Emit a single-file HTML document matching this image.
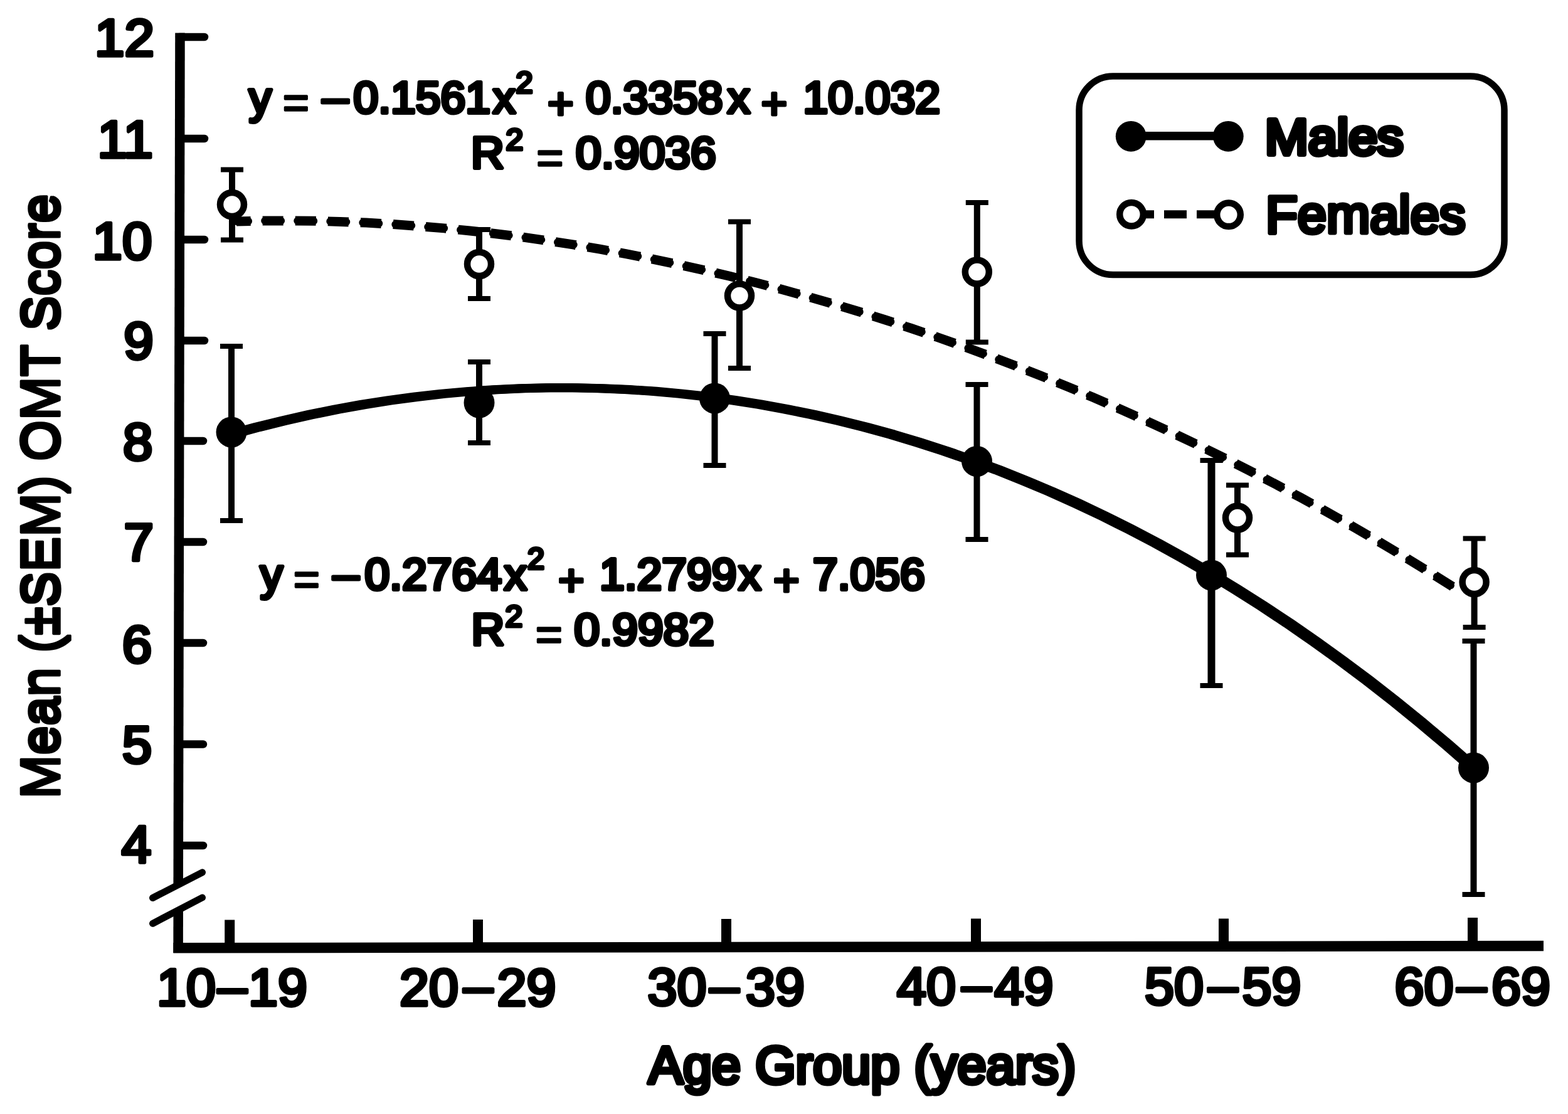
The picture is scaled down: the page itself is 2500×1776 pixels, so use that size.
<!DOCTYPE html>
<html lang="en"><head><meta charset="utf-8"><title>Mean (±SEM) OMT Score by Age Group</title>
<style>
html,body{margin:0;padding:0;background:#fff;}
body{width:2500px;height:1776px;overflow:hidden;}
svg{display:block;}
text{font-family:"Liberation Sans",sans-serif;fill:#000;stroke:#000;stroke-linejoin:round;white-space:pre;}
</style></head><body>
<svg width="2500" height="1776" viewBox="0 0 2500 1776">
<defs><filter id="hdil" x="-10%" y="-2%" width="120%" height="104%"><feMorphology operator="dilate" radius="2 0"/></filter></defs>
<rect width="2500" height="1776" fill="#fff"/>
<g stroke="#000" fill="none" stroke-linecap="butt">
<path d="M287,52.5 L284.2,1411" stroke-width="15.5"/>
<path d="M284.2,1450 L284.1,1519" stroke-width="15.5"/>
<path d="M276.4,1511.3 L2461,1508" stroke-width="16.5"/>
<path d="M243.5,1431.5 L322.5,1390.8" stroke-width="11" stroke-linecap="round"/>
<path d="M243.5,1472.3 L322.5,1431" stroke-width="11" stroke-linecap="round"/>
<path d="M286,59 L326,59" stroke-width="12.5" stroke-linecap="round"/>
<path d="M286,221 L326,221" stroke-width="12.5" stroke-linecap="round"/>
<path d="M286,382 L326,382" stroke-width="12.5" stroke-linecap="round"/>
<path d="M286,543 L326,543" stroke-width="12.5" stroke-linecap="round"/>
<path d="M286,703 L324,703" stroke-width="12.5" stroke-linecap="round"/>
<path d="M286,864 L324,864" stroke-width="12.5" stroke-linecap="round"/>
<path d="M286,1025 L324,1025" stroke-width="12.5" stroke-linecap="round"/>
<path d="M286,1186.5 L324,1186.5" stroke-width="12.5" stroke-linecap="round"/>
<path d="M286,1348 L324,1348" stroke-width="12.5" stroke-linecap="round"/>
<path d="M366.2,1466.5 L366.2,1510" stroke-width="16"/>
<path d="M762,1466 L762,1510" stroke-width="16"/>
<path d="M1158,1465 L1158,1510" stroke-width="16"/>
<path d="M1556,1464.5 L1556,1510" stroke-width="16"/>
<path d="M1951,1464.5 L1951,1510" stroke-width="16"/>
<path d="M2348,1463 L2348,1510" stroke-width="16"/>
</g>
<g fill="none" stroke="#000" stroke-width="14" stroke-linejoin="round"><path transform="translate(-4,0)" d="M368.0,692.6 L410.2,681.1 L452.3,670.7 L494.5,661.2 L536.6,652.6 L578.8,645.0 L621.0,638.4 L663.1,632.7 L705.3,627.9 L747.4,624.1 L789.6,621.2 L831.8,619.3 L873.9,618.3 L916.1,618.3 L958.2,619.2 L1000.4,621.0 L1042.6,623.8 L1084.7,627.6 L1126.9,632.3 L1169.0,638.0 L1211.2,644.7 L1253.4,652.3 L1295.5,660.9 L1337.7,670.5 L1379.8,681.0 L1422.0,692.6 L1464.1,705.2 L1506.3,718.8 L1548.5,733.5 L1590.6,749.1 L1632.8,765.9 L1674.9,783.6 L1717.1,802.5 L1759.3,822.5 L1801.4,843.5 L1843.6,865.6 L1885.7,888.9 L1927.9,913.3 L1970.1,938.9 L2012.2,965.7 L2054.4,993.6 L2096.5,1022.8 L2138.7,1053.1 L2180.9,1084.7 L2223.0,1117.6 L2265.2,1151.7 L2307.3,1187.2 L2349.5,1224.0"/><path transform="translate(4,0)" d="M368.0,692.6 L410.2,681.1 L452.3,670.7 L494.5,661.2 L536.6,652.6 L578.8,645.0 L621.0,638.4 L663.1,632.7 L705.3,627.9 L747.4,624.1 L789.6,621.2 L831.8,619.3 L873.9,618.3 L916.1,618.3 L958.2,619.2 L1000.4,621.0 L1042.6,623.8 L1084.7,627.6 L1126.9,632.3 L1169.0,638.0 L1211.2,644.7 L1253.4,652.3 L1295.5,660.9 L1337.7,670.5 L1379.8,681.0 L1422.0,692.6 L1464.1,705.2 L1506.3,718.8 L1548.5,733.5 L1590.6,749.1 L1632.8,765.9 L1674.9,783.6 L1717.1,802.5 L1759.3,822.5 L1801.4,843.5 L1843.6,865.6 L1885.7,888.9 L1927.9,913.3 L1970.1,938.9 L2012.2,965.7 L2054.4,993.6 L2096.5,1022.8 L2138.7,1053.1 L2180.9,1084.7 L2223.0,1117.6 L2265.2,1151.7 L2307.3,1187.2 L2349.5,1224.0"/></g>
<g fill="none" stroke="#000" stroke-linejoin="round"><path d="M377.0,352.9 L418.4,352.1 L459.8,351.9 L501.1,352.3 L542.5,353.4 L583.9,355.1 L625.3,357.4 L666.7,360.4 L708.1,363.9 L749.4,368.0 L790.8,372.7 L832.2,377.9 L873.6,383.8 L915.0,390.2 L956.4,397.2 L997.7,404.7 L1039.1,412.8 L1080.5,421.4 L1121.9,430.6 L1163.3,440.3 L1204.7,450.5 L1246.0,461.3 L1287.4,472.7 L1328.8,484.6 L1370.2,497.0 L1411.6,510.0 L1453.0,523.5 L1494.3,537.5 L1535.7,552.1 L1577.1,567.3 L1618.5,583.0 L1659.9,599.2 L1701.3,616.1 L1742.6,633.4 L1784.0,651.4 L1825.4,669.9 L1866.8,689.0 L1908.2,708.6 L1949.6,728.9 L1990.9,749.7 L2032.3,771.2 L2073.7,793.2 L2115.1,815.9 L2156.5,839.2 L2197.9,863.2 L2239.2,887.8 L2280.6,913.0 L2322.0,938.9" stroke-width="15" stroke-dasharray="33 19.07" stroke-dashoffset="10.4"/><path d="M377.0,352.9 L418.4,352.1 L459.8,351.9 L501.1,352.3 L542.5,353.4 L583.9,355.1 L625.3,357.4 L666.7,360.4 L708.1,363.9 L749.4,368.0 L790.8,372.7 L832.2,377.9 L873.6,383.8 L915.0,390.2 L956.4,397.2 L997.7,404.7 L1039.1,412.8 L1080.5,421.4 L1121.9,430.6 L1163.3,440.3 L1204.7,450.5 L1246.0,461.3 L1287.4,472.7 L1328.8,484.6 L1370.2,497.0 L1411.6,510.0 L1453.0,523.5 L1494.3,537.5 L1535.7,552.1 L1577.1,567.3 L1618.5,583.0 L1659.9,599.2 L1701.3,616.1 L1742.6,633.4 L1784.0,651.4 L1825.4,669.9 L1866.8,689.0 L1908.2,708.6 L1949.6,728.9 L1990.9,749.7 L2032.3,771.2 L2073.7,793.2 L2115.1,815.9 L2156.5,839.2 L2197.9,863.2 L2239.2,887.8 L2280.6,913.0 L2322.0,938.9" stroke-width="12" stroke-linecap="round" stroke-dasharray="26 26.07" stroke-dashoffset="6.9"/></g>
<g stroke="#000" fill="none">
<path d="M369,552 L369,830" stroke-width="10"/>
<path d="M351,552 L387,552 M351,830 L387,830" stroke-width="8"/>
<path d="M764,577 L764,706" stroke-width="10"/>
<path d="M746,577 L782,577 M746,706 L782,706" stroke-width="8"/>
<path d="M1139.5,532 L1139.5,742" stroke-width="10"/>
<path d="M1121.5,532 L1157.5,532 M1121.5,742 L1157.5,742" stroke-width="8"/>
<path d="M1557.5,613 L1557.5,860" stroke-width="10"/>
<path d="M1539.5,613 L1575.5,613 M1539.5,860 L1575.5,860" stroke-width="8"/>
<path d="M1931.5,734 L1931.5,1093" stroke-width="12"/>
<path d="M1913.5,734 L1949.5,734 M1913.5,1093 L1949.5,1093" stroke-width="8"/>
<path d="M2349.5,1022 L2349.5,1426" stroke-width="10"/>
<path d="M2331.5,1022 L2367.5,1022 M2331.5,1426 L2367.5,1426" stroke-width="8"/>
<path d="M370,270.5 L370,382.5" stroke-width="10"/>
<path d="M352,270.5 L388,270.5 M352,382.5 L388,382.5" stroke-width="8"/>
<path d="M764,366 L764,476" stroke-width="10"/>
<path d="M746,366 L782,366 M746,476 L782,476" stroke-width="8"/>
<path d="M1179,353.5 L1179,587" stroke-width="10"/>
<path d="M1161,353.5 L1197,353.5 M1161,587 L1197,587" stroke-width="8"/>
<path d="M1557.8,323 L1557.8,545.5" stroke-width="10"/>
<path d="M1539.8,323 L1575.8,323 M1539.8,545.5 L1575.8,545.5" stroke-width="8"/>
<path d="M1973,773.5 L1973,884.5" stroke-width="10"/>
<path d="M1955,773.5 L1991,773.5 M1955,884.5 L1991,884.5" stroke-width="8"/>
<path d="M2350.6,858.5 L2350.6,1000" stroke-width="10"/>
<path d="M2332.6,858.5 L2368.6,858.5 M2332.6,1000 L2368.6,1000" stroke-width="8"/>
</g>
<circle cx="369" cy="689" r="24.5" fill="#000"/>
<circle cx="764" cy="642" r="24.5" fill="#000"/>
<circle cx="1139.5" cy="635" r="24.5" fill="#000"/>
<circle cx="1557.5" cy="735.5" r="24.5" fill="#000"/>
<circle cx="1931.5" cy="917" r="24.5" fill="#000"/>
<circle cx="2349.5" cy="1224" r="24.5" fill="#000"/>
<circle cx="370" cy="326" r="19" fill="#fff" stroke="#000" stroke-width="10.5"/>
<circle cx="764" cy="421" r="19" fill="#fff" stroke="#000" stroke-width="10.5"/>
<circle cx="1179" cy="471.5" r="19" fill="#fff" stroke="#000" stroke-width="10.5"/>
<circle cx="1557.8" cy="433.5" r="19" fill="#fff" stroke="#000" stroke-width="10.5"/>
<circle cx="1973" cy="825.5" r="19" fill="#fff" stroke="#000" stroke-width="10.5"/>
<circle cx="2350.6" cy="928" r="19" fill="#fff" stroke="#000" stroke-width="10.5"/>
<rect x="1720.5" y="121.5" width="678" height="316.5" rx="54" ry="54" fill="none" stroke="#000" stroke-width="10.5"/>
<path d="M1803,216.8 L1958,216.8" stroke="#000" stroke-width="13.5"/>
<circle cx="1803.2" cy="217.3" r="24.4" fill="#000"/><circle cx="1958.3" cy="217.3" r="24.4" fill="#000"/>
<path d="M1826,341.7 L1840,341.7 M1856,341.7 L1892,341.7 M1908,341.7 L1937,341.7" stroke="#000" stroke-width="13"/>
<circle cx="1804" cy="341.7" r="18.8" fill="#fff" stroke="#000" stroke-width="10.5"/><circle cx="1959" cy="342.3" r="18.8" fill="#fff" stroke="#000" stroke-width="10.5"/>
<text id="yt12" transform="translate(246.00,89.20) scale(1.0158,1)" font-size="84.00" stroke-width="5.5" text-anchor="end">12</text>
<text id="yt11" transform="translate(244.00,251.20) scale(1.0158,1)" font-size="84.00" stroke-width="5.5" text-anchor="end">11</text>
<text id="yt10" transform="translate(242.40,412.80) scale(1.0158,1)" font-size="84.00" stroke-width="5.5" text-anchor="end">10</text>
<text id="yt9" transform="translate(244.80,572.20) scale(1.0158,1)" font-size="84.00" stroke-width="5.5" text-anchor="end">9</text>
<text id="yt8" transform="translate(243.40,732.80) scale(1.0158,1)" font-size="84.00" stroke-width="5.5" text-anchor="end">8</text>
<text id="yt7" transform="translate(245.00,892.60) scale(1.0158,1)" font-size="84.00" stroke-width="5.5" text-anchor="end">7</text>
<text id="yt6" transform="translate(242.20,1056.00) scale(1.0158,1)" font-size="84.00" stroke-width="5.5" text-anchor="end">6</text>
<text id="yt5" transform="translate(242.20,1216.10) scale(1.0158,1)" font-size="84.00" stroke-width="5.5" text-anchor="end">5</text>
<text id="yt4" transform="translate(241.20,1375.40) scale(1.0158,1)" font-size="84.00" stroke-width="5.5" text-anchor="end">4</text>
<text id="xt0" transform="translate(0.00,1603.10) scale(1.0050,1)" font-size="84.00" stroke-width="5.5"><tspan id="xt0_0" x="248.76" y="0">10</tspan><tspan id="xt0_1" x="345.27" y="-2.3" stroke-width="5">–</tspan><tspan id="xt0_2" x="394.03" y="0">19</tspan></text>
<text id="xt1" transform="translate(0.00,1602.50) scale(1.0050,1)" font-size="84.00" stroke-width="5.5"><tspan id="xt1_0" x="633.83" y="0">20</tspan><tspan id="xt1_1" x="735.32" y="-2.3" stroke-width="5">–</tspan><tspan id="xt1_2" x="788.56" y="0">29</tspan></text>
<text id="xt2" transform="translate(0.00,1602.10) scale(1.0050,1)" font-size="84.00" stroke-width="5.5"><tspan id="xt2_0" x="1027.36" y="0">30</tspan><tspan id="xt2_1" x="1125.87" y="-2.3" stroke-width="5">–</tspan><tspan id="xt2_2" x="1183.08" y="0">39</tspan></text>
<text id="xt3" transform="translate(0.00,1600.70) scale(1.0050,1)" font-size="84.00" stroke-width="5.5"><tspan id="xt3_0" x="1422.89" y="0">40</tspan><tspan id="xt3_1" x="1525.87" y="-2.3" stroke-width="5">–</tspan><tspan id="xt3_2" x="1577.61" y="0">49</tspan></text>
<text id="xt4" transform="translate(0.00,1600.90) scale(1.0050,1)" font-size="84.00" stroke-width="5.5"><tspan id="xt4_0" x="1815.92" y="0">50</tspan><tspan id="xt4_1" x="1916.92" y="-2.3" stroke-width="5">–</tspan><tspan id="xt4_2" x="1970.65" y="0">59</tspan></text>
<text id="xt5" transform="translate(0.00,1600.90) scale(1.0050,1)" font-size="84.00" stroke-width="5.5"><tspan id="xt5_0" x="2212.44" y="0">60</tspan><tspan id="xt5_1" x="2311.44" y="-2.3" stroke-width="5">–</tspan><tspan id="xt5_2" x="2366.17" y="0">69</tspan></text>
<text id="xtitle" transform="translate(1374.50,1726.80) scale(0.9985,1)" font-size="83.00" stroke-width="7" text-anchor="middle">Age Group (years)</text>
<g filter="url(#hdil)"><text id="ytitle" transform="translate(92.50,791.20) rotate(-90) scale(0.9916,1)" font-size="84.30" stroke-width="3.6" text-anchor="middle">Mean (±SEM) OMT Score</text></g>
<text id="lgM" transform="translate(2017.10,246.20) scale(1.0324,1)" font-size="80.00" stroke-width="8">Males</text>
<text id="lgF" transform="translate(2018.00,371.10) scale(0.9952,1)" font-size="83.50" stroke-width="7">Females</text>
<text id="eq1" transform="translate(0.00,180.20) scale(1.0060,1)" font-size="71.00" stroke-width="6"><tspan id="eq1_0" x="394.63" y="0">y </tspan><tspan id="eq1_1" x="448.31" y="8" stroke-width="3.5">= </tspan><tspan id="eq1_2" x="506.96" y="4.5" stroke-width="5" textLength="49" lengthAdjust="spacingAndGlyphs">−</tspan><tspan id="eq1_3" x="560.14" y="0">0.1561</tspan><tspan id="eq1_4" x="781.31" y="0">x</tspan><tspan id="eq1_5" x="817.59" y="-32.7" font-size="48.3" stroke-width="5">2 </tspan><tspan id="eq1_6" x="867.79" y="8.5" stroke-width="5">+ </tspan><tspan id="eq1_7" x="928.43" y="0">0.3358</tspan><tspan id="eq1_8" x="1153.08" y="0">x </tspan><tspan id="eq1_9" x="1206.26" y="8.5" stroke-width="5">+ </tspan><tspan id="eq1_10" x="1272.86" y="0">10.032</tspan></text>
<text id="eq1r" transform="translate(0.00,268.20) scale(1.0300,1)" font-size="71.00" stroke-width="6"><tspan id="eq1r_0" x="729.13" y="0">R</tspan><tspan id="eq1r_1" x="783.01" y="-29" font-size="48.3" stroke-width="5">2 </tspan><tspan id="eq1r_2" x="830.58" y="8" stroke-width="3.5">= </tspan><tspan id="eq1r_3" x="891.26" y="0">0.9036</tspan></text>
<text id="eq2" transform="translate(0.00,940.00) scale(1.0060,1)" font-size="71.00" stroke-width="6"><tspan id="eq2_0" x="412.52" y="0">y </tspan><tspan id="eq2_1" x="465.21" y="8" stroke-width="3.5">= </tspan><tspan id="eq2_2" x="523.86" y="4.5" stroke-width="5" textLength="49" lengthAdjust="spacingAndGlyphs">−</tspan><tspan id="eq2_3" x="578.03" y="0">0.2764</tspan><tspan id="eq2_4" x="799.20" y="0">x</tspan><tspan id="eq2_5" x="835.98" y="-32.7" font-size="48.3" stroke-width="5">2 </tspan><tspan id="eq2_6" x="884.69" y="8.5" stroke-width="5">+ </tspan><tspan id="eq2_7" x="950.30" y="0">1.2799</tspan><tspan id="eq2_8" x="1170.48" y="0">x </tspan><tspan id="eq2_9" x="1225.65" y="8.5" stroke-width="5">+ </tspan><tspan id="eq2_10" x="1288.27" y="0">7.056</tspan></text>
<text id="eq2r" transform="translate(0.00,1028.00) scale(1.0280,1)" font-size="71.00" stroke-width="6"><tspan id="eq2r_0" x="731.03" y="0">R</tspan><tspan id="eq2r_1" x="783.56" y="-29" font-size="48.3" stroke-width="5">2 </tspan><tspan id="eq2r_2" x="830.74" y="8" stroke-width="3.5">= </tspan><tspan id="eq2r_3" x="890.56" y="0">0.9982</tspan></text>
</svg>
</body></html>
